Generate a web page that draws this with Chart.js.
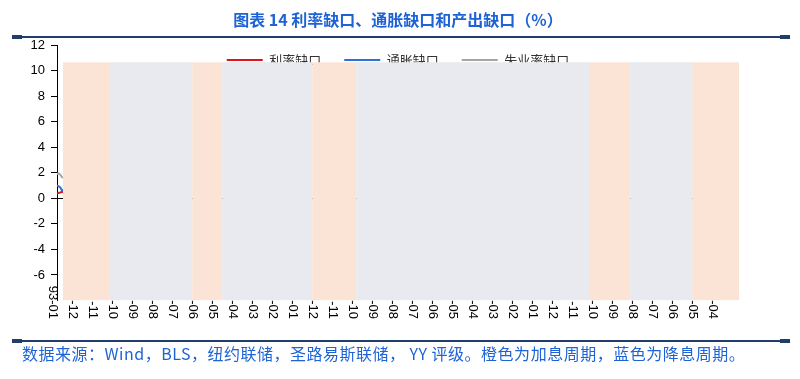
<!DOCTYPE html>
<html><head><meta charset="utf-8">
<script src="https://cdn.jsdelivr.net/npm/chart.js@4.4.1/dist/chart.umd.min.js"></script>
<style>
html,body{margin:0;padding:0;background:#fff;}
#wrap{position:relative;width:800px;height:379px;overflow:hidden;background:#fff;}
#c{position:absolute;left:0;top:0;}
.rule{position:absolute;left:12px;width:778px;height:2px;background:#203D6B;}
.cap{position:absolute;top:-1px;width:10px;height:4px;background:#203D6B;}
#src{position:absolute;left:22px;top:341px;font:16px "Noto Sans CJK SC",sans-serif;letter-spacing:0.5px;color:#1E63D6;white-space:nowrap;line-height:24px;}
</style></head><body>
<div id="wrap">
<canvas id="c" width="800" height="379"></canvas>
<div class="rule" style="top:36px"><div class="cap" style="left:0"></div><div class="cap" style="right:0"></div></div>
<div class="rule" style="top:340px"><div class="cap" style="left:0"></div><div class="cap" style="right:0"></div></div>
<div id="src">数据来源：Wind，BLS，纽约联储，圣路易斯联储， YY 评级。橙色为加息周期，蓝色为降息周期。</div>
</div>
<script>
// x tick labels (month index from 1993-01) and their texts
const tickMonths = [0, 11, 22, 33, 44, 55, 66, 77, 88, 99, 110, 121, 132, 143, 154, 165, 176, 187, 198, 209, 220, 231, 242, 253, 264, 275, 286, 297, 308, 319, 330, 341, 352, 363];
const tickLabels = ['93-01','-12','-11','-10','-09','-08','-07','-06','-05','-04','-03','-02','-01','-12','-11','-10','-09','-08','-07','-06','-05','-04','-03','-02','-01','-12','-11','-10','-09','-08','-07','-06','-05','-04'];

// series (only the first months are visible; the rest lies under the cycle shading)
const lineMonths = [2, 3, 4, 5, 6, 7, 8, 9, 10];
const rateGap    = [0.40, 0.42, 0.45, 0.50, 0.52, 0.55, 0.60, 0.62, 0.65];
const inflGap    = [1.00, 0.95, 0.85, 0.60, 0.65, 0.70, 0.75, 0.80, 0.80];
const unempGap   = [1.90, 1.95, 1.85, 1.65, 1.60, 1.55, 1.50, 1.45, 1.40];

// policy cycles (month index), hike = orange, cut = grey
const bandStart = [5.5, 30.8, 76.5, 93.0, 142.5, 166.7, 294.8, 317.4, 351.5];
const bandEnd   = [30.8, 76.5, 93.0, 142.5, 166.7, 294.8, 317.4, 351.5, 377.3];
const bandType  = ['hike','cut','hike','cut','hike','cut','hike','cut','hike'];
const bandTop = 10.65;

const seriesNames = ['利率缺口', '通胀缺口', '失业率缺口'];
const seriesColors = ['#E0141E', '#2F6FD6', '#A5A5A5'];
const seriesValues = [rateGap, inflGap, unempGap];

const datasets = seriesValues.map((vals, k) => ({
  label: seriesNames[k],
  data: lineMonths.map((m, i) => ({x: m, y: vals[i]})),
  borderColor: seriesColors[k],
  backgroundColor: seriesColors[k],
  borderWidth: 2,
  pointRadius: 0,
  fill: false,
  order: 1
}));
bandStart.forEach((s, i) => {
  const col = bandType[i] === 'hike' ? '#FBE4D6' : '#E9EAEF';
  datasets.push({
    label: 'band' + i,
    data: [{x: s, y: bandTop}, {x: bandEnd[i], y: bandTop}],
    borderColor: 'rgba(0,0,0,0)',
    backgroundColor: col,
    borderWidth: 0,
    pointRadius: 0,
    fill: 'start',
    order: 0
  });
});

const xLabelPlugin = {
  id: 'xLabels',
  afterLayout(chart) {
    // let the legend overlap the top of the plot (it is drawn before the shading)
    const lg = chart.legend;
    if (lg) { lg.bottom = 68; lg.height = lg.bottom - lg.top; }
  },
  afterDraw(chart) {
    const sx = chart.scales.x, ctx = chart.ctx;
    ctx.save();
    ctx.font = '13px "Liberation Sans", Arial, sans-serif';
    ctx.fillStyle = '#000';
    ctx.textAlign = 'right';
    ctx.textBaseline = 'middle';
    tickMonths.forEach((m, i) => {
      const px = sx.getPixelForValue(m);
      ctx.save();
      ctx.translate(px, 319);
      ctx.rotate(Math.PI / 2);
      ctx.fillText(tickLabels[i], 0, 0);
      ctx.restore();
    });
    ctx.restore();
  }
};

new Chart(document.getElementById('c'), {
  type: 'line',
  data: { datasets },
  plugins: [xLabelPlugin],
  options: {
    responsive: false,
    animation: false,
    devicePixelRatio: 1,
    layout: { padding: { left: 30, right: 61, top: 0, bottom: 78.5 } },
    scales: {
      x: { type: 'linear', min: 2.2, max: 377.3, display: false },
      y: {
        min: -8, max: 12,
        ticks: {
          stepSize: 2, color: '#000', padding: 6,
          font: { family: '"Liberation Sans", Arial, sans-serif', size: 13 },
          callback: v => (v === -8 ? '' : v)
        },
        grid: {
          drawOnChartArea: true,
          color: c => (c.tick && c.tick.value === 0 ? '#000' : 'rgba(0,0,0,0)'),
          tickColor: c => (c.tick && c.tick.value === -8 ? 'rgba(0,0,0,0)' : '#000'),
          tickLength: 6,
          lineWidth: 1
        },
        border: { color: '#000', width: 1 },
        afterFit: s => { s.width = 27; }
      }
    },
    plugins: {
      title: {
        display: true, fullSize: false,
        text: '图表 14 利率缺口、通胀缺口和产出缺口（%）',
        color: '#1E63D6',
        font: { family: '"Noto Sans CJK SC", sans-serif', size: 16, weight: 'bold' },
        padding: { top: 10, bottom: 1.3 }
      },
      legend: {
        position: 'top', fullSize: false, maxHeight: 14.5,
        labels: {
          boxWidth: 36, boxHeight: 2, padding: 23, color: '#333',
          font: { family: '"Noto Sans CJK SC", sans-serif', size: 13 },
          generateLabels: chart => Chart.defaults.plugins.legend.labels.generateLabels(chart)
            .filter(it => it.datasetIndex < 3)
            .map(it => Object.assign(it, { lineWidth: 0 }))
        }
      },
      tooltip: { enabled: false }
    }
  }
});
</script>
</body></html>
